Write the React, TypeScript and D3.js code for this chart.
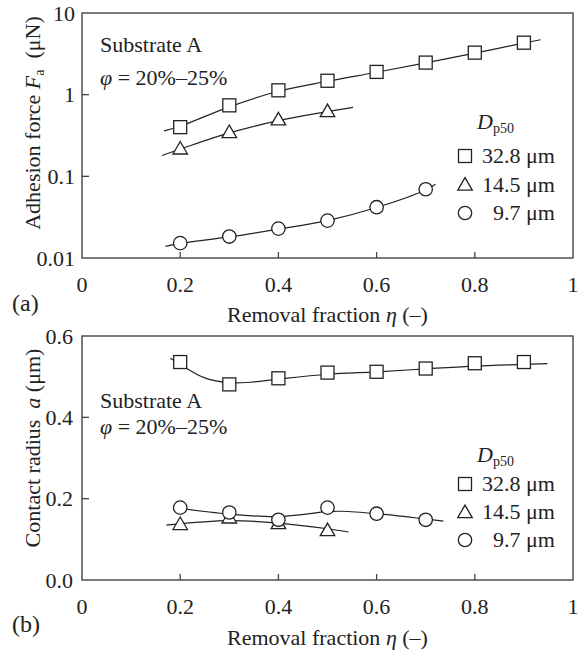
import React from "react";
import * as d3 from "d3";

// ---------- data ----------
const etaTicks = [0, 0.2, 0.4, 0.6, 0.8, 1];
const etaTickLabels = ["0", "0.2", "0.4", "0.6", "0.8", "1"];
const forceTicks = [10, 1, 0.1, 0.01];
const forceTickLabels = ["10", "1", "0.1", "0.01"];
const radiusTicks = [0, 0.2, 0.4, 0.6];
const radiusTickLabels = ["0.0", "0.2", "0.4", "0.6"];

const legendLabels = ["32.8 μm", "14.5 μm", "9.7 μm"];

// (a) adhesion force
const forceEta328 = [0.2, 0.3, 0.4, 0.5, 0.6, 0.7, 0.8, 0.9];
const force328 = [0.4, 0.74, 1.13, 1.48, 1.9, 2.47, 3.27, 4.33];
const forceEta145 = [0.2, 0.3, 0.4, 0.5];
const force145 = [0.22, 0.35, 0.5, 0.63];
const forceEta97 = [0.2, 0.3, 0.4, 0.5, 0.6, 0.7];
const force97 = [0.0152, 0.0183, 0.0229, 0.0287, 0.0419, 0.0695];

const forceFit328: [number, number][] = [[0.167, 0.36], [0.2, 0.41], [0.3, 0.71], [0.4, 1.1], [0.5, 1.46], [0.6, 1.88], [0.7, 2.45], [0.8, 3.22], [0.9, 4.3], [0.934, 4.7]];
const forceFit145: [number, number][] = [[0.163, 0.18], [0.2, 0.215], [0.3, 0.34], [0.4, 0.48], [0.5, 0.62], [0.552, 0.70]];
const forceFit97: [number, number][] = [[0.17, 0.0139], [0.2, 0.0151], [0.3, 0.0181], [0.4, 0.0226], [0.5, 0.0287], [0.6, 0.0415], [0.7, 0.068], [0.72, 0.08]];

// (b) contact radius
const radEta328 = [0.2, 0.3, 0.4, 0.5, 0.6, 0.7, 0.8, 0.9];
const rad328 = [0.536, 0.481, 0.496, 0.51, 0.512, 0.52, 0.533, 0.536];
const radEta145 = [0.2, 0.3, 0.4, 0.5];
const rad145 = [0.138, 0.154, 0.14, 0.123];
const radEta97 = [0.2, 0.3, 0.4, 0.5, 0.6, 0.7];
const rad97 = [0.178, 0.166, 0.148, 0.178, 0.163, 0.148];

const radFit328: [number, number][] = [[0.18, 0.545], [0.2, 0.53], [0.25, 0.497], [0.3, 0.485], [0.35, 0.487], [0.4, 0.494], [0.5, 0.506], [0.6, 0.512], [0.7, 0.519], [0.8, 0.526], [0.9, 0.53], [0.948, 0.532]];
const radFit145: [number, number][] = [[0.172, 0.135], [0.3, 0.146], [0.4, 0.14], [0.5, 0.126], [0.543, 0.118]];
const radFit97: [number, number][] = [[0.2, 0.176], [0.3, 0.162], [0.4, 0.156], [0.5, 0.168], [0.53, 0.169], [0.6, 0.163], [0.7, 0.15], [0.736, 0.145]];

// ---------- styling ----------
const FONT = "'Liberation Serif', 'Times New Roman', serif";
const INK = "#222";
const AXIS = "#444";
const FS = 22;

type Kind = "square" | "triangle" | "circle";

function Marker({ kind, x, y }: { kind: Kind; x: number; y: number }) {
  const common = { fill: "#fff", stroke: INK, strokeWidth: 1.3 };
  if (kind === "square") return <rect x={x - 6.5} y={y - 6.5} width={13} height={13} {...common} />;
  if (kind === "circle") return <circle cx={x} cy={y} r={6.7} {...common} />;
  const s = 14.5;
  const h = s * Math.sqrt(3) / 2;
  const p = [[x, y - h * 0.55], [x - s / 2, y + h * 0.45], [x + s / 2, y + h * 0.45]];
  return <polygon points={p.map((q) => q.join(",")).join(" ")} {...common} />;
}

const L = 82, R = 573;

function Panel({
  top, bottom, yScale, yTicks, yTickLabels, series, fits, tickLabelEnd,
  subY1, subY2, legendD, legendRows, tag, tagY, xLabY, yLabel, yLabCenter,
}: any) {
  const x = d3.scaleLinear().domain([0, 1]).range([L, R]);
  const line = d3.line<[number, number]>()
    .x((d) => x(d[0]))
    .y((d) => yScale(d[1]))
    .curve(d3.curveCatmullRom.alpha(0.5));
  const kinds: Kind[] = ["square", "triangle", "circle"];
  return (
    <g>
      {fits.map((f: [number, number][], i: number) => (
        <path key={"f" + i} d={line(f) || ""} fill="none" stroke={INK} strokeWidth={1.2} />
      ))}
      {series.map((s: any, i: number) =>
        s.eta.map((e: number, j: number) => (
          <Marker key={i + "-" + j} kind={kinds[i]} x={x(e)} y={yScale(s.v[j])} />
        ))
      )}
      <rect x={L} y={top} width={R - L} height={bottom - top} fill="none" stroke={AXIS} strokeWidth={1.4} />
      {etaTicks.map((t, i) => (
        <g key={"xt" + i}>
          {i > 0 && i < etaTicks.length - 1 && (
            <line x1={x(t)} x2={x(t)} y1={bottom} y2={bottom - 6} stroke={AXIS} strokeWidth={1.3} />
          )}
          <text x={x(t)} y={bottom + 34} textAnchor="middle" fontSize={FS} fill={INK}>{etaTickLabels[i]}</text>
        </g>
      ))}
      {yTicks.map((t: number, i: number) => (
        <g key={"yt" + i}>
          {i > 0 && i < yTicks.length - 1 && (
            <line x1={L} x2={L + 7} y1={yScale(t)} y2={yScale(t)} stroke={AXIS} strokeWidth={1.3} />
          )}
          <text x={tickLabelEnd} y={yScale(t)} dy="0.35em" textAnchor="end" fontSize={FS} fill={INK}>{yTickLabels[i]}</text>
        </g>
      ))}
      <text x={100} y={subY1} fontSize={FS} fill={INK}>Substrate A</text>
      <text x={100} y={subY2} fontSize={FS} fill={INK}>
        <tspan fontStyle="italic">φ</tspan> = 20%–25%
      </text>
      <text x={477} y={legendD} fontSize={FS} fill={INK}>
        <tspan fontStyle="italic">D</tspan>
        <tspan fontSize={14} dy={4}>p50</tspan>
      </text>
      {legendRows.map((ly: number, i: number) => (
        <g key={"lg" + i}>
          <Marker kind={kinds[i]} x={465} y={ly - 7} />
          <text x={555} y={ly} textAnchor="end" fontSize={FS} fill={INK}>{legendLabels[i]}</text>
        </g>
      ))}
      <text x={12} y={tagY} fontSize={FS + 2} fill={INK}>{tag}</text>
      <text x={(L + R) / 2} y={xLabY} textAnchor="middle" fontSize={FS} fill={INK}>
        Removal fraction <tspan fontStyle="italic">η</tspan> (–)
      </text>
      <text transform={`translate(40,${yLabCenter}) rotate(-90)`} textAnchor="middle" fontSize={FS} fill={INK}>
        {yLabel}
      </text>
    </g>
  );
}

export default function App() {
  const yTop = d3.scaleLog().domain([0.01, 10]).range([258, 13]);
  const yBot = d3.scaleLinear().domain([0, 0.6]).range([580, 336]);
  return (
    <svg width={583} height={651} style={{ position: "absolute", left: 0, top: 0, background: "#fff" }} fontFamily={FONT}>
      <rect width={583} height={651} fill="#fff" />
      <Panel
        top={13} bottom={258} yScale={yTop} yTicks={forceTicks} yTickLabels={forceTickLabels}
        tickLabelEnd={75}
        series={[{ eta: forceEta328, v: force328 }, { eta: forceEta145, v: force145 }, { eta: forceEta97, v: force97 }]}
        fits={[forceFit328, forceFit145, forceFit97]}
        subY1={52} subY2={85} legendD={129} legendRows={[163, 191.5, 220]}
        tag="(a)" tagY={311} xLabY={322} yLabCenter={123}
        yLabel={<>Adhesion force <tspan fontStyle="italic">F</tspan><tspan fontSize={14} dy={4}>a</tspan><tspan dy={-4}>{"\u00a0\u00a0(μN)"}</tspan></>}
      />
      <Panel
        top={336} bottom={580} yScale={yBot} yTicks={radiusTicks} yTickLabels={radiusTickLabels}
        tickLabelEnd={73}
        series={[{ eta: radEta328, v: rad328 }, { eta: radEta145, v: rad145 }, { eta: radEta97, v: rad97 }]}
        fits={[radFit328, radFit145, radFit97]}
        subY1={408} subY2={434} legendD={462} legendRows={[491, 519, 547]}
        tag="(b)" tagY={632} xLabY={645} yLabCenter={448}
        yLabel={<>{"Contact radius\u00a0\u00a0"}<tspan fontStyle="italic">a</tspan> (μm)</>}
      />
    </svg>
  );
}
